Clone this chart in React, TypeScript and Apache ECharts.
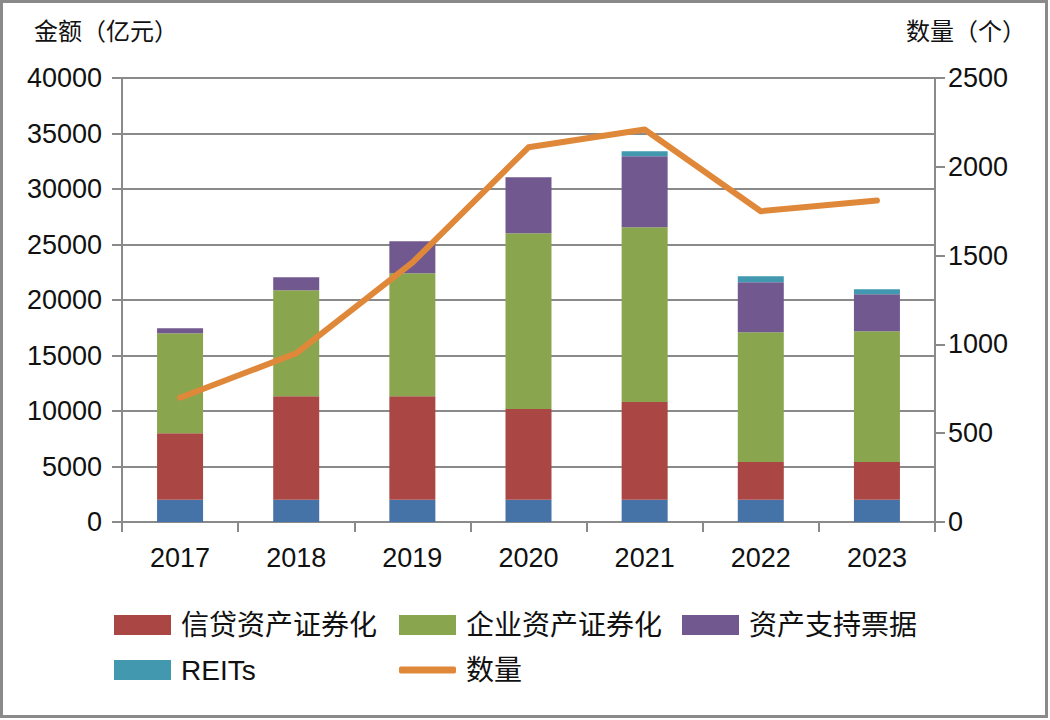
import React, { useEffect, useRef } from "react";
import * as echarts from "echarts";

const years = ["2017", "2018", "2019", "2020", "2021", "2022", "2023"];
const baseSeg = [2000, 2000, 2000, 2000, 2000, 2000, 2000];
const credit = [6000, 9340, 9340, 8170, 8800, 3400, 3400];
const corporate = [9000, 9540, 11070, 15840, 15750, 11700, 11790];
const abn = [450, 1170, 2880, 5040, 6390, 4500, 3330];
const reits = [0, 0, 0, 0, 450, 540, 450];
const counts = [700, 950, 1460, 2110, 2210, 1750, 1810];
const leftTicks = { min: 0, max: 40000, interval: 5000 };
const rightTicks = { min: 0, max: 2500, interval: 500 };

const FONT = "'Liberation Sans', 'Noto Sans CJK SC', sans-serif";
const GRAY = "#8a8a8a";

export default function App() {
  const ref = useRef<HTMLDivElement>(null);
  useEffect(() => {
    if (!ref.current) return;
    const chart = echarts.init(ref.current, null, { renderer: "svg" });
    const legendText = { fontFamily: FONT, fontSize: 28, color: "#111", padding: [0, 0, 0, 5] };
    const mkLegend = (name: string, left: number, top: number, extra: any = {}) => ({
      data: [{ name, icon: "rect" }],
      left,
      top,
      itemWidth: 57,
      itemHeight: 20,
      textStyle: legendText,
      selectedMode: false,
      ...extra,
    });
    chart.setOption({
      animation: false,
      backgroundColor: "#fff",
      grid: { left: 122, right: 115, top: 78, bottom: 198 },
      graphic: [
        {
          type: "rect",
          shape: { x: 1.5, y: 1.5, width: 1045, height: 715 },
          style: { fill: "none", stroke: GRAY, lineWidth: 3 },
        },
        {
          type: "text",
          left: 34,
          top: 19,
          style: { text: "金额（亿元）", fontFamily: FONT, fontSize: 24, fill: "#111" },
        },
        {
          type: "text",
          right: 24,
          top: 19,
          style: { text: "数量（个）", fontFamily: FONT, fontSize: 24, fill: "#111" },
        },
      ],
      legend: [
        mkLegend("信贷资产证券化", 109, 606),
        mkLegend("企业资产证券化", 394, 606),
        mkLegend("资产支持票据", 677, 606),
        mkLegend("REITs", 109, 651),
        mkLegend("数量", 394, 651, {
          itemHeight: 7,
          data: [{ name: "数量", icon: "roundRect", itemStyle: { color: "#e0883a" } }],
        }),
      ],
      xAxis: {
        type: "category",
        data: years,
        axisLine: { lineStyle: { color: GRAY, width: 2 } },
        axisTick: { show: true, length: 10, lineStyle: { color: GRAY, width: 2 } },
        axisLabel: { fontFamily: FONT, fontSize: 27, color: "#111", margin: 22 },
      },
      yAxis: [
        {
          type: "value",
          ...leftTicks,
          axisLine: { show: true, lineStyle: { color: GRAY, width: 2 } },
          axisTick: { show: true, length: 10, lineStyle: { color: GRAY, width: 2 } },
          splitLine: { show: true, lineStyle: { color: GRAY, width: 2 } },
          axisLabel: {
            fontFamily: FONT,
            fontSize: 27,
            color: "#111",
            margin: 20,
            formatter: (v: number) => String(v),
          },
        },
        {
          type: "value",
          ...rightTicks,
          axisLine: { show: true, lineStyle: { color: GRAY, width: 2 } },
          axisTick: { show: true, length: 10, lineStyle: { color: GRAY, width: 2 } },
          splitLine: { show: false },
          axisLabel: {
            fontFamily: FONT,
            fontSize: 27,
            color: "#111",
            margin: 13,
            formatter: (v: number) => String(v),
          },
        },
      ],
      series: [
        { name: "基础", type: "bar", stack: "amt", data: baseSeg, barWidth: 46, itemStyle: { color: "#4572a7" } },
        { name: "信贷资产证券化", type: "bar", stack: "amt", data: credit, barWidth: 46, itemStyle: { color: "#aa4643" } },
        { name: "企业资产证券化", type: "bar", stack: "amt", data: corporate, barWidth: 46, itemStyle: { color: "#89a54e" } },
        { name: "资产支持票据", type: "bar", stack: "amt", data: abn, barWidth: 46, itemStyle: { color: "#71588f" } },
        { name: "REITs", type: "bar", stack: "amt", data: reits, barWidth: 46, itemStyle: { color: "#4198af" } },
        {
          name: "数量",
          type: "line",
          yAxisIndex: 1,
          data: counts,
          symbol: "none",
          z: 5,
          lineStyle: { color: "#e0883a", width: 6, cap: "round", join: "round" },
          itemStyle: { color: "#e0883a" },
        },
      ],
    });
    return () => chart.dispose();
  }, []);
  return (
    <div
      ref={ref}
      style={{ position: "fixed", left: 0, top: 0, width: 1050, height: 720 }}
    />
  );
}
